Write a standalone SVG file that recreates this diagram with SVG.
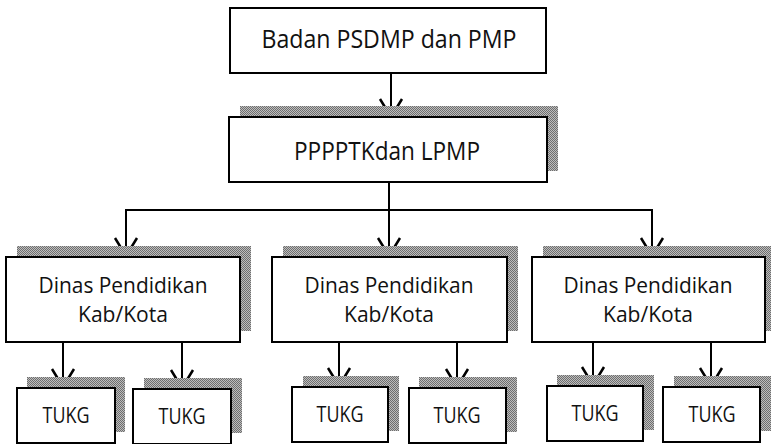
<svg xmlns="http://www.w3.org/2000/svg" width="771" height="444" viewBox="0 0 771 444">
<defs>
<pattern id="dots" width="2" height="2" patternUnits="userSpaceOnUse">
<rect width="2" height="2" fill="#bdbdbd"/>
<rect width="1" height="1" fill="#6e6e6e"/>
<rect x="1" y="1" width="1" height="1" fill="#6e6e6e"/>
</pattern>
<path id="ah" d="M-11,-18 L0,0 L11,-18" fill="none" stroke="#000" stroke-width="2.5"/>
<style>
.box{fill:#fff;stroke:#000;stroke-width:2}
.sh{fill:url(#dots);stroke:none}
.t{font-family:"Open Sans","Noto Sans","DejaVu Sans",sans-serif;fill:#111;text-anchor:middle}
.big{font-size:25px}
.mid{font-size:22px}
.sm{font-size:22px}
.c{fill:none;stroke:#000;stroke-width:2}
</style>
</defs>

<g id="connectors">
<path class="c" d="M391,73 V117"/>
<path class="c" d="M389,182 V256"/>
<path class="c" d="M389,210 H652 V256"/>
<path class="c" d="M389,210 H126 V256"/>
<path class="c" d="M63,342 V387"/>
<path class="c" d="M182,342 V388"/>
<path class="c" d="M339,342 V386"/>
<path class="c" d="M457,342 V387"/>
<path class="c" d="M593,342 V385"/>
<path class="c" d="M711,342 V386"/>
<use href="#ah" x="391" y="117"/>
<use href="#ah" x="389" y="256"/>
<use href="#ah" x="652" y="256"/>
<use href="#ah" x="126" y="256"/>
<use href="#ah" x="63" y="387"/>
<use href="#ah" x="182" y="388"/>
<use href="#ah" x="339" y="386"/>
<use href="#ah" x="457" y="387"/>
<use href="#ah" x="593" y="385"/>
<use href="#ah" x="711" y="386"/>
</g>

<g id="badan">
<rect class="box" x="230" y="8" width="316" height="65"/>
<text class="t big" x="389" y="48" textLength="255" lengthAdjust="spacingAndGlyphs">Badan PSDMP dan PMP</text>
</g>

<g id="ppppptk">
<rect class="sh" x="240" y="106" width="318" height="65"/>
<rect class="box" x="229" y="117" width="318" height="65"/>
<text class="t big" x="387" y="160" textLength="186" lengthAdjust="spacingAndGlyphs">PPPPTKdan LPMP</text>
</g>

<g id="dinas1">
<rect class="sh" x="17" y="246" width="234" height="85"/>
<rect class="box" x="6" y="257" width="234" height="85"/>
<text class="t mid" x="123" y="293" textLength="169" lengthAdjust="spacingAndGlyphs">Dinas Pendidikan</text>
<text class="t mid" x="123" y="322" textLength="90" lengthAdjust="spacingAndGlyphs">Kab/Kota</text>
</g>
<g id="dinas2">
<rect class="sh" x="283" y="246" width="235" height="85"/>
<rect class="box" x="272" y="257" width="235" height="85"/>
<text class="t mid" x="389" y="293" textLength="169" lengthAdjust="spacingAndGlyphs">Dinas Pendidikan</text>
<text class="t mid" x="389" y="322" textLength="90" lengthAdjust="spacingAndGlyphs">Kab/Kota</text>
</g>
<g id="dinas3">
<rect class="sh" x="543" y="246" width="233" height="85"/>
<rect class="box" x="532" y="257" width="233" height="85"/>
<text class="t mid" x="648" y="293" textLength="169" lengthAdjust="spacingAndGlyphs">Dinas Pendidikan</text>
<text class="t mid" x="648" y="322" textLength="90" lengthAdjust="spacingAndGlyphs">Kab/Kota</text>
</g>

<g id="tukg1">
<rect class="sh" x="27" y="377" width="98" height="55"/>
<rect class="box" x="17" y="388" width="98" height="55"/>
<text class="t sm" x="66" y="423" textLength="47" lengthAdjust="spacingAndGlyphs">TUKG</text>
</g>
<g id="tukg2">
<rect class="sh" x="144" y="378" width="98" height="55"/>
<rect class="box" x="133" y="389" width="98" height="55"/>
<text class="t sm" x="182" y="424" textLength="47" lengthAdjust="spacingAndGlyphs">TUKG</text>
</g>
<g id="tukg3">
<rect class="sh" x="303" y="376" width="96" height="55"/>
<rect class="box" x="292" y="387" width="96" height="55"/>
<text class="t sm" x="340" y="422" textLength="47" lengthAdjust="spacingAndGlyphs">TUKG</text>
</g>
<g id="tukg4">
<rect class="sh" x="419" y="377" width="98" height="55"/>
<rect class="box" x="409" y="388" width="97" height="55"/>
<text class="t sm" x="457" y="423" textLength="47" lengthAdjust="spacingAndGlyphs">TUKG</text>
</g>
<g id="tukg5">
<rect class="sh" x="557" y="375" width="97" height="55"/>
<rect class="box" x="547" y="386" width="96" height="55"/>
<text class="t sm" x="595" y="421" textLength="47" lengthAdjust="spacingAndGlyphs">TUKG</text>
</g>
<g id="tukg6">
<rect class="sh" x="674" y="376" width="97" height="55"/>
<rect class="box" x="663" y="387" width="97" height="55"/>
<text class="t sm" x="712" y="422" textLength="47" lengthAdjust="spacingAndGlyphs">TUKG</text>
</g>
</svg>
